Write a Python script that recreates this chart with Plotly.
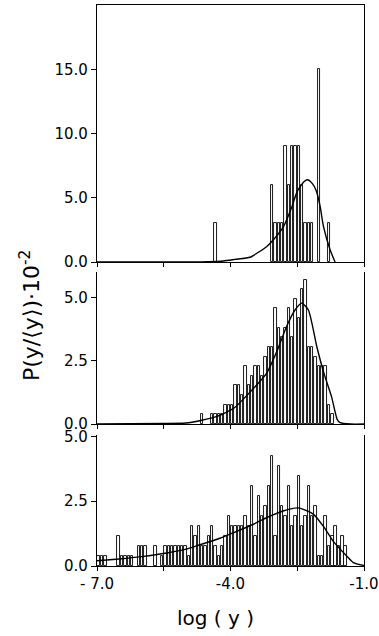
import plotly.graph_objects as go

# ---- data (values in units of 10^-2) ----
bin_start = -7.0
bin_width = 0.075
n_bins = 80

# panel 1 (top): {bin index: value}
p1_vals = {35: 3.0, 52: 6.0, 53: 3.0, 54: 3.0, 55: 3.0, 56: 9.0, 57: 6.0, 58: 9.0,
           59: 9.0, 60: 9.0, 61: 6.0, 62: 3.0, 63: 3.0, 64: 3.0, 66: 15.0, 69: 3.0}
p2_vals = {31: 0.38, 34: 0.38, 35: 0.38, 36: 0.38, 37: 0.38, 38: 0.76, 39: 0.76, 40: 0.76,
           41: 1.52, 42: 1.52, 43: 1.14, 44: 2.28, 45: 1.52, 46: 1.9, 47: 2.28, 48: 2.28,
           49: 1.9, 50: 2.66, 51: 3.04, 52: 3.04, 53: 4.56, 54: 3.8, 55: 3.42, 56: 3.8,
           57: 4.56, 58: 3.42, 59: 4.94, 60: 4.18, 61: 5.32, 62: 5.7, 63: 3.04, 64: 3.04,
           65: 2.66, 66: 2.28, 67: 2.28, 68: 2.28, 69: 0.76, 70: 0.38}
p3_vals = {0: 0.385, 1: 0.385, 2: 0.385, 6: 1.15, 7: 0.385, 8: 0.385, 9: 0.385, 10: 0.385,
           12: 0.77, 13: 0.77, 14: 0.77, 17: 0.77, 19: 0.385, 20: 0.77, 21: 0.77, 22: 0.77,
           23: 0.77, 24: 0.77, 25: 0.77, 26: 0.77, 27: 0.385, 28: 1.54, 29: 1.15, 30: 1.54,
           31: 0.77, 32: 0.77, 33: 1.15, 34: 1.54, 35: 0.77, 36: 0.385, 37: 0.77, 38: 1.15,
           39: 1.92, 40: 1.54, 41: 1.54, 42: 1.54, 43: 1.54, 44: 1.92, 45: 1.54, 46: 3.08,
           47: 1.15, 48: 2.69, 49: 1.92, 50: 2.31, 51: 3.08, 52: 4.23, 53: 1.15, 54: 3.85,
           55: 2.31, 56: 1.92, 57: 3.08, 58: 1.54, 59: 1.92, 60: 3.46, 61: 1.54, 62: 1.92,
           63: 3.08, 64: 1.92, 65: 2.31, 66: 0.385, 67: 0.385, 68: 1.92, 69: 0.77, 70: 1.15,
           71: 1.54, 72: 0.77, 73: 1.15, 74: 0.77}

# fitted curves
c1_x = [-7.0, -5.0, -4.5, -4.16, -3.9, -3.56, -3.4, -3.19, -3.04, -2.81, -2.62, -2.5,
        -2.35, -2.27, -2.16, -2.08, -1.99, -1.91, -1.76, -1.65]
c1_y = [0, 0, 0.02, 0.08, 0.2, 0.37, 0.7, 1.19, 1.71, 2.75, 4.3, 5.5,
        6.25, 6.4, 6.1, 5.6, 4.4, 2.75, 0.93, 0.0]
c2_x = [-7, -5.5, -5.0, -4.67, -4.3, -3.92, -3.55, -3.19, -2.95, -2.74, -2.55, -2.4,
        -2.25, -2.06, -1.9, -1.73, -1.6, -1.54, -1.3, -1.0]
c2_y = [0, 0.02, 0.04, 0.14, 0.3, 0.63, 1.28, 2.0, 2.9, 3.85, 4.5, 4.77,
        4.5, 3.05, 2.0, 1.08, 0.17, 0.05, 0, 0]
c3_x = [-7.0, -6.5, -6.0, -5.43, -5.0, -4.69, -4.3, -3.94, -3.5, -3.18, -2.8, -2.48,
        -2.14, -1.9, -1.69, -1.38, -1.24, -1.0]
c3_y = [0.2, 0.27, 0.36, 0.5, 0.65, 0.82, 1.03, 1.28, 1.6, 1.87, 2.13, 2.24,
        2.0, 1.5, 0.95, 0.37, 0.13, 0.02]

x_tickvals = [-7.0, -4.0, -1.0]
x_ticktext = ["- 7.0", "-4.0", "-1.0"]
x_minor_step = 1.5
y1_ticks = [0, 5, 10, 15]
y1_text = ["0.0", "5.0", "10.0", "15.0"]
y23_ticks = [0, 2.5, 5.0]
y23_text = ["0.0", "2.5", "5.0"]

# ---- figure ----
centers = [bin_start + bin_width * (i + 0.5) for i in range(n_bins)]

def series(d):
    return [d.get(i, 0) for i in range(n_bins)]

fig = go.Figure()
panels = [(p1_vals, c1_x, c1_y, "x", "y"),
          (p2_vals, c2_x, c2_y, "x2", "y2"),
          (p3_vals, c3_x, c3_y, "x3", "y3")]
for vals, cx, cy, xa, ya in panels:
    ys = series(vals)
    xs = [c for c, v in zip(centers, ys) if v > 0]
    vs = [v for v in ys if v > 0]
    fig.add_trace(go.Bar(x=xs, y=vs, width=bin_width * 0.72, xaxis=xa, yaxis=ya,
                         marker=dict(color="white", line=dict(color="black", width=0.9)),
                         showlegend=False))
    fig.add_trace(go.Scatter(x=cx, y=cy, mode="lines", xaxis=xa, yaxis=ya,
                             line=dict(color="black", width=1.4, shape="spline", smoothing=0.6),
                             showlegend=False))

W, H = 379, 636
xdom = [97 / W, 364 / W]
font = dict(family="DejaVu Sans", size=15, color="black")

def yd(top, bottom):
    return [1 - bottom / H, 1 - top / H]

common_x = dict(range=[-7, -1], domain=xdom, showline=True, linecolor="black", linewidth=1.2,
                ticks="outside", ticklen=4, tickcolor="black", tickvals=x_tickvals,
                minor=dict(tick0=-7, dtick=x_minor_step, ticks="outside", ticklen=4,
                           tickcolor="black", showgrid=False),
                showgrid=False, zeroline=False, tickfont=font, automargin=False,
                ticklabeloverflow="allow")
common_y = dict(showline=True, linecolor="black", linewidth=1.2, mirror=True,
                ticks="outside", ticklen=5, tickcolor="black", showgrid=False,
                zeroline=False, tickfont=font, automargin=False, ticklabeloverflow="allow")

fig.update_layout(
    width=W, height=H, margin=dict(l=0, r=0, t=0, b=0, pad=0, autoexpand=False),
    paper_bgcolor="white", plot_bgcolor="white", bargap=0,
    xaxis=dict(common_x, anchor="y", showticklabels=False, mirror=True),
    xaxis2=dict(common_x, anchor="y2", showticklabels=False),
    xaxis3=dict(common_x, anchor="y3", ticktext=x_ticktext),
    yaxis=dict(common_y, domain=yd(5, 262), range=[0, 20], tickvals=y1_ticks, ticktext=y1_text),
    yaxis2=dict(common_y, domain=yd(272, 424), range=[0, 6], tickvals=y23_ticks, ticktext=y23_text),
    yaxis3=dict(common_y, domain=yd(435, 566), range=[0, 5.05], tickvals=y23_ticks, ticktext=y23_text),
    annotations=[
        dict(text="log ( y )", x=215 / W, y=1 - 618 / H, xref="paper", yref="paper",
             xanchor="center", yanchor="middle",
             showarrow=False, font=dict(family="DejaVu Sans", size=20, color="black")),
        dict(text="P(y/⟨y⟩)·10<sup>-2</sup>", x=30 / W, y=1 - 316 / H, xref="paper", yref="paper",
             xanchor="center", yanchor="middle",
             showarrow=False, textangle=-90,
             font=dict(family="DejaVu Sans", size=22, color="black")),
    ],
)

fig.write_html("out.html", config={"displayModeBar": False},
               post_script="document.body.style.margin='0';document.body.style.overflow='hidden';")
